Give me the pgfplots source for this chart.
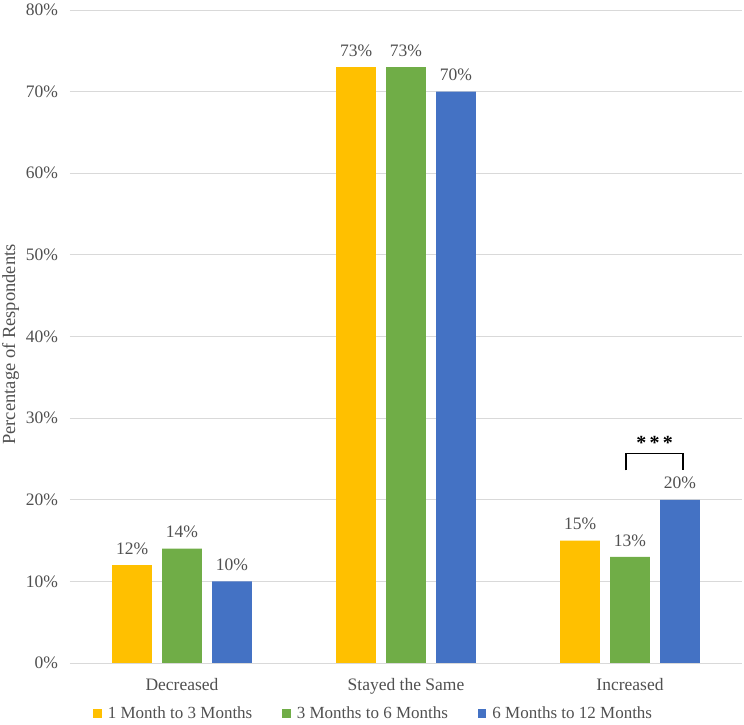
\documentclass[border=0pt]{standalone}
\usepackage{pgfplots}
\pgfplotsset{compat=1.18}
\usepackage{fontspec}
\setmainfont{Liberation Serif}
\definecolor{cyel}{HTML}{FFC000}
\definecolor{cgrn}{HTML}{70AD47}
\definecolor{cblu}{HTML}{4472C4}
\definecolor{cgrid}{HTML}{D9D9D9}
\definecolor{ctxt}{HTML}{505050}
\begin{document}
\fontsize{17.5}{20}\selectfont
\begin{tikzpicture}[x=1pt,y=1pt]
\begin{axis}[
  scale only axis,
  width=672pt, height=653pt,
  ymin=0, ymax=80, ytick={0,10,...,80},
  xmin=-0.5, xmax=2.5,
  xtick={0,1,2},
  xticklabels={Decreased,Stayed the Same,Increased},
  major tick length=0pt,
  ymajorgrids, grid style={cgrid, line width=0.9pt},
  axis line style={draw=none},
  axis x line*=bottom,
  axis y line*=left,
  /pgf/number format/assume math mode=true,
  yticklabel={\pgfmathprintnumber{\tick}\%},
  tick label style={text=ctxt, font=\fontsize{17.5}{20}\selectfont},
  yticklabel style={xshift=-6pt},
  xticklabel style={yshift=-9pt},
  ylabel={Percentage of Respondents},
  ylabel style={text=ctxt, font=\fontsize{18.5}{20}\selectfont, yshift=-5pt, xshift=-8pt},
  ybar, bar width=0.178,
  nodes near coords={\pgfmathprintnumber{\pgfplotspointmeta}\%},
  every node near coord/.append style={text=ctxt, font=\fontsize{17.5}{20}\selectfont, yshift=4.5pt},
  legend style={at={(axis description cs:0.452,-0.078)}, anchor=center, draw=none, fill=none,
    legend columns=3, text=ctxt, font=\fontsize{17}{20}\selectfont,
    /tikz/every even column/.style={column sep=28pt}},
  legend cell align=left,
  legend image code/.code={\fill[#1,draw=none] (0pt,-4.5pt) rectangle (8.5pt,4.5pt); \path (12.5pt,0pt);},
]
\addplot[fill=cyel, draw=none, bar shift=-0.223] coordinates {(0,12) (1,73) (2,15)};
\addplot[fill=cgrn, draw=none, bar shift=0] coordinates {(0,14) (1,73) (2,13)};
\addplot[fill=cblu, draw=none, bar shift=0.223] coordinates {(0,10) (1,70) (2,20)};
\legend{1 Month to 3 Months,3 Months to 6 Months,6 Months to 12 Months}
\draw[cgrid, line width=1pt] (axis cs:-0.5,0) -- (axis cs:2.5,0);
\draw[black, line width=1.2pt] (axis cs:1.982,23.6) -- (axis cs:1.982,25.7) -- (axis cs:2.237,25.7) -- (axis cs:2.237,23.6);
\node[anchor=base, font=\fontsize{20}{22}\selectfont\bfseries] at (axis cs:2.11,26.2) {*\,*\,*};
\end{axis}
\pgfresetboundingbox
\path (-70pt,-61pt) rectangle (674pt,663pt);
\end{tikzpicture}
\end{document}
